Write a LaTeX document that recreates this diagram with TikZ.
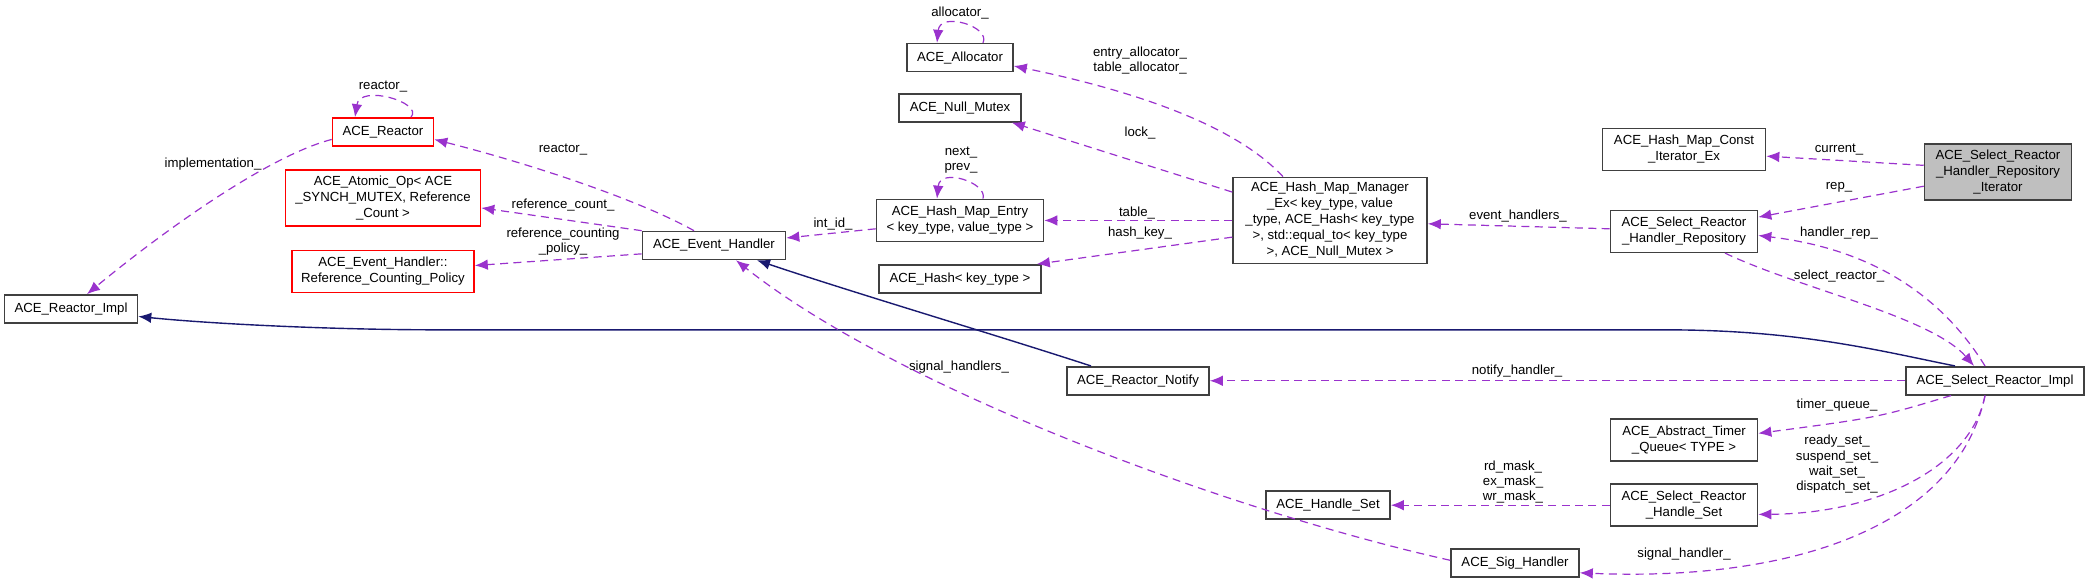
\documentclass[tikz,border=0pt]{standalone}
\usepackage{fontspec}
\setmainfont{Liberation Sans}
\usepackage{tikz}
\usetikzlibrary{arrows.meta, positioning, calc}
\definecolor{orchid}{RGB}{154,50,205}
\definecolor{navy}{RGB}{25,25,112}
\tikzstyle{cls} = [rectangle, draw=black!75, fill=white, line width=0.8pt, inner sep=1.5pt, align=center, font=\fontsize{6.6}{8}\selectfont]
\tikzstyle{undoc} = [cls, draw=red]
\tikzstyle{dep} = [draw=orchid, dash pattern=on 4pt off 2.7pt, line width=0.6pt, -{Latex[length=6.5pt,width=5.3pt]}]
\tikzstyle{inherit} = [draw=navy, line width=0.7pt, -{Latex[length=6.5pt,width=5.3pt]}]
\tikzstyle{lbl} = [align=center, inner sep=0pt, font=\fontsize{6.6}{7.6}\selectfont]

\begin{document}
\begin{tikzpicture}[x=0.5pt, y=-0.4175pt]
    \useasboundingbox (0,0) rectangle (2087,695);
    % Classes
    \node (impl) [cls, minimum width=66.5pt, minimum height=14pt] at (71,370) {ACE\_Reactor\_Impl};
    \node (reactor) [undoc, minimum width=50.5pt, minimum height=14pt] at (383,158) {ACE\_Reactor};
    \node (atomic) [undoc, minimum width=97.5pt, minimum height=28pt] at (383,237) {ACE\_Atomic\_Op< ACE\\\_SYNCH\_MUTEX, Reference\\\_Count >};
    \node (policy) [undoc, minimum width=91pt, minimum height=21pt] at (383,325) {ACE\_Event\_Handler::\\Reference\_Counting\_Policy};
    \node (handler) [cls, minimum width=71.5pt, minimum height=14pt] at (714,294) {ACE\_Event\_Handler};
    \node (alloc) [cls, minimum width=53pt, minimum height=14pt] at (960,69) {ACE\_Allocator};
    \node (mutex) [cls, minimum width=61pt, minimum height=14pt] at (960,129) {ACE\_Null\_Mutex};
    \node (entry) [cls, minimum width=83.5pt, minimum height=21pt] at (960,264) {ACE\_Hash\_Map\_Entry\\< key\_type, value\_type >};
    \node (hash) [cls, minimum width=81pt, minimum height=14pt] at (960,334) {ACE\_Hash< key\_type >};
    \node (manager) [cls, minimum width=97pt, minimum height=43pt] at (1330,264) {ACE\_Hash\_Map\_Manager\\\_Ex< key\_type, value\\\_type, ACE\_Hash< key\_type\\>, std::equal\_to< key\_type\\>, ACE\_Null\_Mutex >};
    \node (notify) [cls, minimum width=71pt, minimum height=14pt] at (1138,456) {ACE\_Reactor\_Notify};
    \node (hset) [cls, minimum width=62pt, minimum height=14pt] at (1328,605) {ACE\_Handle\_Set};
    \node (citer) [cls, minimum width=81.5pt, minimum height=21pt] at (1684,179) {ACE\_Hash\_Map\_Const\\\_Iterator\_Ex};
    \node (iter) [cls, fill=black!25, minimum width=73.5pt, minimum height=28pt] at (1998,206) {ACE\_Select\_Reactor\\\_Handler\_Repository\\\_Iterator};
    \node (repo) [cls, minimum width=73.5pt, minimum height=21pt] at (1684,277) {ACE\_Select\_Reactor\\\_Handler\_Repository};
    \node (select) [cls, minimum width=89pt, minimum height=14pt] at (1995,456) {ACE\_Select\_Reactor\_Impl};
    \node (timer) [cls, minimum width=73.5pt, minimum height=21pt] at (1684,527) {ACE\_Abstract\_Timer\\\_Queue< TYPE >};
    \node (sset) [cls, minimum width=73.5pt, minimum height=21pt] at (1684,605) {ACE\_Select\_Reactor\\\_Handle\_Set};
    \node (sig) [cls, minimum width=64pt, minimum height=14pt] at (1515,674) {ACE\_Sig\_Handler};

    % Inheritance
    \draw [inherit] ($(select.north)+(-40,0)$) .. controls (1879,420) and (1799,395) .. (1665,395) -- (440,395) .. controls (333,395) and (213,388) .. ($(impl.east)+(0,9)$);
    \draw [inherit] ($(notify.north)+(-47,0)$) .. controls (993,400) and (860,353) .. ($(handler.south)+(43,0)$);

    % Members
    \draw [dep] ($(reactor.north)+(28,0)$) .. controls (424,123) and (360,100) .. ($(reactor.north)+(-28,0)$);
    \node [lbl] at (383,104) {reactor\_};
    \draw [dep] ($(reactor.west)+(0,9)$) .. controls (267,187) and (160,280) .. ($(impl.north)+(16,0)$);
    \node [lbl] at (213,196) {implementation\_};
    \draw [dep] ($(handler.north)+(-20,0)$) .. controls (640,240) and (533,197) .. ($(reactor.east)+(0,9)$);
    \node [lbl] at (563,179) {reactor\_};
    \draw [dep] (handler.north west) -- ($(atomic.east)+(0,12)$);
    \node [lbl] at (563,245) {reference\_count\_};
    \draw [dep] ($(handler.west)+(0,10)$) -- ($(policy.east)+(0,-7)$);
    \node [lbl] at (563,289) {reference\_counting\\\_policy\_};
    \draw [dep] ($(entry.west)+(0,10)$) -- ($(handler.east)+(0,-9)$);
    \node [lbl] at (833,268) {int\_id\_};
    \draw [dep] ($(entry.north)+(23,0)$) .. controls (988,219) and (940,200) .. ($(entry.north)+(-23,0)$);
    \node [lbl] at (961,192) {next\_\\prev\_};
    \draw [dep] ($(alloc.north)+(23,0)$) .. controls (991,32) and (940,13) .. ($(alloc.north)+(-23,0)$);
    \node [lbl] at (960,15) {allocator\_};
    \draw [dep] ($(manager.north)+(-47,0)$) .. controls (1233,147) and (1127,107) .. ($(alloc.east)+(0,10)$);
    \node [lbl] at (1140,72) {entry\_allocator\_\\table\_allocator\_};
    \draw [dep] ($(manager.west)+(0,-34)$) -- ($(mutex.south east)+(-10,0)$);
    \node [lbl] at (1140,159) {lock\_};
    \draw [dep] (manager.west) -- (entry.east);
    \node [lbl] at (1137,255) {table\_};
    \draw [dep] ($(manager.west)+(0,20)$) -- ($(hash.north east)+(-5,0)$);
    \node [lbl] at (1140,279) {hash\_key\_};
    \draw [dep] ($(repo.west)+(0,-3)$) -- ($(manager.east)+(0,4)$);
    \node [lbl] at (1518,259) {event\_handlers\_};
    \draw [dep] ($(iter.west)+(0,-8)$) -- ($(citer.east)+(0,8)$);
    \node [lbl] at (1839,179) {current\_};
    \draw [dep] ($(iter.west)+(0,17)$) -- ($(repo.east)+(0,-17)$);
    \node [lbl] at (1839,224) {rep\_};
    \draw [dep] ($(select.north)+(-10,0)$) .. controls (1944,359) and (1877,299) .. ($(repo.east)+(0,5)$);
    \node [lbl] at (1839,279) {handler\_rep\_};
    \draw [dep] ($(repo.south)+(41,0)$) .. controls (1798,345) and (1931,379) .. ($(select.north)+(-21,0)$);
    \node [lbl] at (1839,331) {select\_reactor\_};
    \draw [dep] (select.west) -- (notify.east);
    \node [lbl] at (1517,445) {notify\_handler\_};
    \draw [dep] ($(select.south)+(-44,0)$) .. controls (1878,500) .. ($(timer.east)+(0,-8)$);
    \node [lbl] at (1837,485) {timer\_queue\_};
    \draw [dep] ($(select.south)+(-10,0)$) .. controls (1971,559) and (1878,615) .. ($(sset.east)+(0,11)$);
    \node [lbl] at (1837,556) {ready\_set\_\\suspend\_set\_\\wait\_set\_\\dispatch\_set\_};
    \draw [dep] (sset.west) -- (hset.east);
    \node [lbl] at (1513,577) {rd\_mask\_\\ex\_mask\_\\wr\_mask\_};
    \draw [dep] ($(select.south)+(-10,0)$) .. controls (1958,627) and (1798,697) .. ($(sig.east)+(0,12)$);
    \node [lbl] at (1684,664) {signal\_handler\_};
    \draw [dep] ($(sig.west)+(0,-3)$) .. controls (1233,613) and (900,467) .. ($(handler.south)+(22,0)$);
    \node [lbl] at (959,440) {signal\_handlers\_};
\end{tikzpicture}
\end{document}
